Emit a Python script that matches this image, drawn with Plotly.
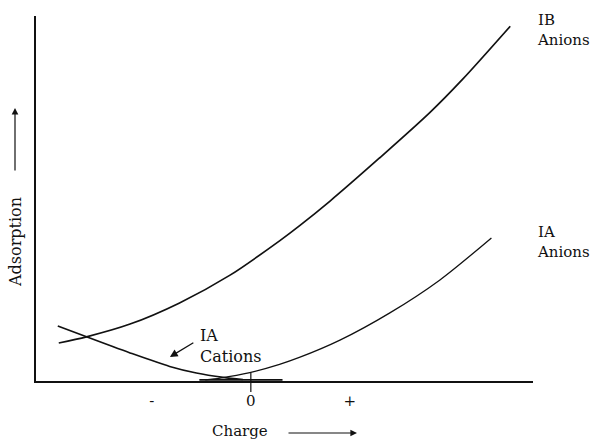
import plotly.graph_objects as go

# ---- data ----
charge_ib_anions = [-1.94, -1.66, -1.22, -0.72, -0.21, 0.29, 0.49, 0.80, 1.30, 1.81, 2.14, 2.62]
ads_ib_anions = [1.04, 1.21, 1.56, 2.14, 2.90, 3.84, 4.25, 4.93, 6.11, 7.36, 8.27, 9.72]

charge_ia_cations = [-1.95, -1.66, -1.22, -0.82, -0.55, -0.28, -0.08]
ads_ia_cations = [1.51, 1.21, 0.77, 0.40, 0.22, 0.10, 0.04]

charge_ia_anions = [-0.46, -0.31, -0.01, 0.29, 0.49, 0.90, 1.40, 1.91, 2.43]
ads_ia_anions = [0.03, 0.08, 0.23, 0.455, 0.645, 1.12, 1.86, 2.77, 3.92]

tick_vals = [-1, 0, 1]
tick_text = ["-", "0", "+"]

X_RANGE = [-2.17, 2.85]
Y_RANGE = [0, 10]
FONT = "DejaVu Serif"
INK = "#111111"

W, H = 590, 442
L, R, T, B = 36, 57, 16, 61
pw, ph = W - L - R, H - T - B


def px_to_paper(px, py):
    return (px - L) / pw, (H - B - py) / ph


def paper_x(v):
    return (v - X_RANGE[0]) / (X_RANGE[1] - X_RANGE[0])


def paper_y(v):
    return (v - Y_RANGE[0]) / (Y_RANGE[1] - Y_RANGE[0])


fig = go.Figure()
fig.add_trace(go.Scatter(x=charge_ib_anions, y=ads_ib_anions, mode="lines",
                         line=dict(color=INK, width=1.7, shape="spline", smoothing=0.8),
                         name="IB Anions", showlegend=False, hoverinfo="skip"))
fig.add_trace(go.Scatter(x=charge_ia_cations, y=ads_ia_cations, mode="lines",
                         line=dict(color=INK, width=1.6, shape="spline", smoothing=0.8),
                         name="IA Cations", showlegend=False, hoverinfo="skip"))
fig.add_trace(go.Scatter(x=charge_ia_anions, y=ads_ia_anions, mode="lines",
                         line=dict(color=INK, width=1.3, shape="spline", smoothing=0.8),
                         name="IA Anions", showlegend=False, hoverinfo="skip"))

# thickened stretch along the axis near zero
fig.add_shape(type="line", xref="x", yref="y", x0=-0.52, x1=0.32, y0=0.03, y1=0.03,
              line=dict(color=INK, width=1.8))
# zero tick crossing the axis
fig.add_shape(type="line", xref="paper", yref="paper", x0=paper_x(0), x1=paper_x(0),
              y0=0.022, y1=-0.030, line=dict(color=INK, width=1.2))

font = dict(family=FONT, size=15, color=INK)
font16 = dict(family=FONT, size=16, color=INK)

ex = paper_x(2.869)
fig.add_annotation(x=ex, y=paper_y(9.62), xref="paper", yref="paper", text="IB<br>Anions",
                   showarrow=False, xanchor="left", yanchor="middle", align="left", font=font)
fig.add_annotation(x=ex, y=paper_y(3.81), xref="paper", yref="paper", text="IA<br>Anions",
                   showarrow=False, xanchor="left", yanchor="middle", align="left", font=font)
fig.add_annotation(x=-0.53, y=0.97, xref="x", yref="y", text="IA<br>Cations",
                   showarrow=False, xanchor="left", yanchor="middle", align="left", font=font16)
# arrow pointing at IA cations curve
fig.add_annotation(x=-0.818, y=0.66, xref="x", yref="y", text="", showarrow=True,
                   ax=25, ay=-15, arrowhead=2, arrowsize=1.2, arrowwidth=1.3, arrowcolor=INK)

cx, cy = px_to_paper(240, 431)
fig.add_annotation(x=cx, y=cy, xref="paper", yref="paper", text="Charge",
                   showarrow=False, xanchor="center", yanchor="middle", font=font)
ax_, ay_ = px_to_paper(357, 433)
fig.add_annotation(x=ax_, y=ay_, xref="paper", yref="paper", text="", showarrow=True,
                   ax=-70, ay=0, arrowhead=2, arrowsize=1.1, arrowwidth=1.2, arrowcolor=INK)
sx, sy = px_to_paper(15, 242)
fig.add_annotation(x=sx, y=sy, xref="paper", yref="paper", text="Adsorption", textangle=-90,
                   showarrow=False, xanchor="center", yanchor="middle", font=font16)
tx, ty = px_to_paper(15, 108)
fig.add_annotation(x=tx, y=ty, xref="paper", yref="paper", text="", showarrow=True,
                   ax=0, ay=64, arrowhead=2, arrowsize=1.1, arrowwidth=1.2, arrowcolor=INK)

fig.update_layout(
    width=W, height=H,
    margin=dict(l=L, r=R, t=T, b=B),
    paper_bgcolor="white", plot_bgcolor="white",
    hovermode=False,
    xaxis=dict(range=X_RANGE, showgrid=False, zeroline=False, showline=True,
               linecolor=INK, linewidth=2.2, tickvals=tick_vals, ticktext=tick_text,
               ticks="", ticklabelstandoff=5, tickfont=font, fixedrange=True),
    yaxis=dict(range=Y_RANGE, showgrid=False, zeroline=False, showline=True,
               linecolor=INK, linewidth=2.2, showticklabels=False, ticks="", fixedrange=True),
)

fig.write_html("out.html", config={"displayModeBar": False},
               post_script="document.body.style.margin='0';document.body.style.overflow='hidden';")
